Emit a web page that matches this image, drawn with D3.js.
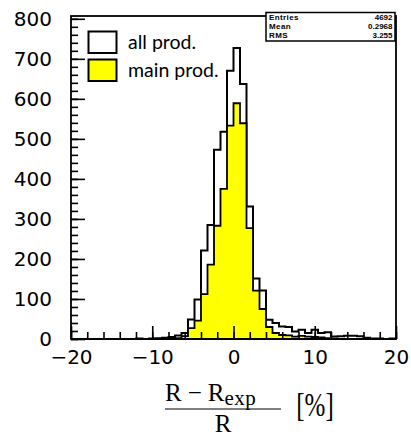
<!DOCTYPE html>
<html><head><meta charset="utf-8">
<script src="https://cdn.jsdelivr.net/npm/d3@7/dist/d3.min.js"></script>
<style>body{margin:0;background:#fff}svg{display:block}</style>
</head><body>
<svg id="chart" width="411" height="436"></svg>
<script>
// ---- data ----
const xMin = -20, xMax = 20, binWidth = 0.8;
const allProd = [0,0,0,0,0,0,0,0,0,0,
                 1,0,1,2,3,5,9,15,49,99,
                 221,285,473,518,670,727,637,331,151,121,
                 48,40,31,30,19,23,15,23,15,17,
                 6,7,8,8,7,3,1,1,0,1];
const mainProd = [0,0,0,0,0,0,0,0,0,0,
                  0,0,0,0,0,1,2,7,27,46,
                  112,186,283,375,533,589,539,277,121,75,
                  30,15,10,9,6,8,6,5,4,2,
                  1,0,0,0,0,0,0,0,0,0];
const legendLabels = ["all prod.", "main prod."];
const statsLabels = ["Entries", "Mean", "RMS"];
const statsValues = ["4692", "0.2968", "3.255"];
const xMajorTicks = [-20, -10, 0, 10, 20];
const xMinorTicks = d3.range(-20, 20.01, 2);
const yMajorTicks = [0, 100, 200, 300, 400, 500, 600, 700, 800];
const yMinorTicks = d3.range(0, 801, 20);
const yTop = 807;

// ---- layout ----
const L = 71, R = 396, T = 16, B = 339;
const svg = d3.select("#chart");
const x = d3.scaleLinear().domain([xMin, xMax]).range([L, R]);
const y = d3.scaleLinear().domain([0, yTop]).range([B, T]);

const edges = d3.range(allProd.length + 1).map(i => xMin + i * binWidth);

// all prod outline
const stepPts = [[xMin, 0]];
allProd.forEach((v, i) => { stepPts.push([edges[i], v]); stepPts.push([edges[i + 1], v]); });
stepPts.push([xMax, 0]);
svg.append("path")
  .attr("d", d3.line().x(d => x(d[0])).y(d => y(d[1]))(stepPts))
  .attr("fill", "none").attr("stroke", "#000").attr("stroke-width", 2)
  .attr("stroke-linejoin", "miter");

// main prod filled
const mainPts = mainProd.map((v, i) => [edges[i], v]).concat([[xMax, mainProd[mainProd.length - 1]]]);
svg.append("path")
  .attr("d", d3.area().curve(d3.curveStepAfter).x(d => x(d[0])).y0(y(0)).y1(d => y(d[1]))(mainPts))
  .attr("fill", "#ffff00").attr("stroke", "#000").attr("stroke-width", 1.8);

// axes
const tickFont = "'DejaVu Sans', sans-serif";
const yMinor = svg.append("g").attr("transform", `translate(${L},0)`)
  .call(d3.axisLeft(y).tickValues(yMinorTicks).tickSize(-7).tickFormat(""));
const yMajor = svg.append("g").attr("transform", `translate(${L},0)`)
  .call(d3.axisLeft(y).tickValues(yMajorTicks).tickSize(-14).tickPadding(19));
const xMinor = svg.append("g").attr("transform", `translate(0,${B})`)
  .call(d3.axisBottom(x).tickValues(xMinorTicks).tickSize(-7).tickFormat(""));
const xMajor = svg.append("g").attr("transform", `translate(0,${B})`)
  .call(d3.axisBottom(x).tickValues(xMajorTicks).tickSize(-13).tickPadding(11)
        .tickFormat(d => d < 0 ? "\u2212" + Math.abs(d) : d));
[yMinor, yMajor, xMinor, xMajor].forEach(g => {
  g.select(".domain").remove();
  g.selectAll("line").attr("stroke", "#000").attr("stroke-width", 1.6);
  g.selectAll("text").attr("font-family", tickFont).attr("font-size", 20).attr("fill", "#000");
});

// frame
svg.append("rect").attr("x", L).attr("y", T).attr("width", R - L).attr("height", B - T)
  .attr("fill", "none").attr("stroke", "#000").attr("stroke-width", 1.8);

// legend
const legFont = "Lato, sans-serif";
const legFills = ["#ffffff", "#ffff00"];
legendLabels.forEach((lab, i) => {
  const gy = 31.5 + i * 28;
  svg.append("rect").attr("x", 88.5).attr("y", gy).attr("width", 28).attr("height", 21.5)
    .attr("fill", legFills[i]).attr("stroke", "#000").attr("stroke-width", 2);
  svg.append("text").attr("x", 128).attr("y", gy + 17).text(lab)
    .attr("font-family", legFont).attr("font-size", 19.5).attr("fill", "#000");
});

// stats box
svg.append("rect").attr("x", 266).attr("y", 12.5).attr("width", 129).attr("height", 28.5)
  .attr("fill", "#fff").attr("stroke", "#000").attr("stroke-width", 1.5);
statsLabels.forEach((lab, i) => {
  const by = 20 + i * 9.2;
  svg.append("text").attr("x", 269).attr("y", by).text(lab)
    .attr("font-family", "'Liberation Sans', sans-serif").attr("font-weight", "bold")
    .attr("font-size", 8).attr("letter-spacing", 0.4);
  svg.append("text").attr("x", 392.5).attr("y", by).attr("text-anchor", "end").text(statsValues[i])
    .attr("font-family", "'Liberation Sans', sans-serif").attr("font-weight", "bold").attr("font-size", 8);
});

// x title: (R - R_exp)/R [%]
const serif = "'Liberation Serif', 'Times New Roman', serif";
const num = svg.append("text").attr("x", 165).attr("y", 401)
  .attr("font-family", serif).attr("font-size", 25).attr("fill", "#000");
num.append("tspan").text("R");
num.append("tspan").attr("dx", 6).text("\u2212");
num.append("tspan").attr("dx", 6).text("R");
num.append("tspan").attr("dy", 4).attr("font-size", 21).attr("letter-spacing", 0.5).text("exp");
svg.append("line").attr("x1", 165).attr("x2", 281).attr("y1", 409).attr("y2", 409)
  .attr("stroke", "#000").attr("stroke-width", 1.2);
svg.append("text").attr("x", 223).attr("y", 432).attr("text-anchor", "middle")
  .attr("font-family", serif).attr("font-size", 25).text("R");
svg.append("text").attr("transform", "translate(315,416) scale(1,1.35)").attr("text-anchor", "middle")
  .attr("font-family", serif).attr("font-size", 25).text("[%]");
</script>
</body></html>
